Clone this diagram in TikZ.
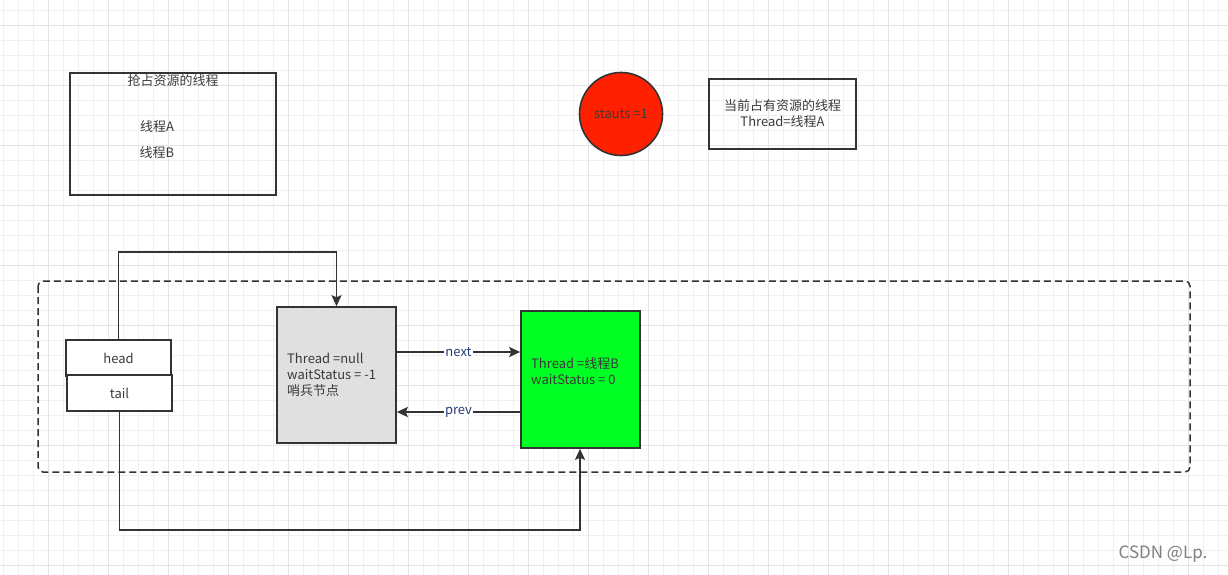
\documentclass[tikz,border=0pt]{standalone}
\usepackage{fontspec}
\setmainfont{Noto Sans CJK SC}
\usetikzlibrary{arrows.meta}
\definecolor{ink}{HTML}{333333}
\definecolor{txt}{HTML}{3A3A3A}
\definecolor{lbl}{HTML}{2A3A78}
\definecolor{redfill}{HTML}{FF2000}
\definecolor{grayfill}{HTML}{E0E0E0}
\definecolor{greenfill}{HTML}{00FF22}
\definecolor{gridminor}{HTML}{F0F0F0}
\definecolor{gridmajor}{HTML}{E4E4E4}
\tikzset{
  box/.style={draw=ink, line width=1.6pt, inner sep=0pt, font=\fontsize{13}{16}\selectfont, text=txt},
  conn/.style={draw=ink, line width=1.6pt, -{Stealth[length=11pt,width=10pt,inset=2pt]}},
  edgelbl/.style={fill=white, inner sep=1pt, text=lbl, font=\fontsize{13}{16}\selectfont},
  plain/.style={text=txt, font=\fontsize{13}{16}\selectfont, inner sep=0pt}
}
\begin{document}
\begin{tikzpicture}[x=1pt,y=-1pt]
\useasboundingbox (0,0) rectangle (1228,575);
\fill[white] (0,0) rectangle (1228,575);
% grid
\foreach \i in {0,...,82} {\draw[gridminor, line width=0.8pt] ({3+15*\i},0) -- ({3+15*\i},575);}
\foreach \j in {0,...,38} {\draw[gridminor, line width=0.8pt] (0,{10+15*\j}) -- (1228,{10+15*\j});}
\foreach \i in {0,...,20} {\draw[gridmajor, line width=0.9pt] ({48+60*\i},0) -- ({48+60*\i},575);}
\foreach \j in {0,...,9} {\draw[gridmajor, line width=0.9pt] (0,{25+60*\j}) -- (1228,{25+60*\j});}

% top-left box
\node[box, minimum width=206pt, minimum height=122pt] (contend) at (173,134) {};
\node[plain] (ctitle) at (173,81) {抢占资源的线程};
\node[plain] (ta) at (157,127) {线程A};
\node[plain] (tb) at (157,153) {线程B};

% circle
\node[draw=ink, line width=1.6pt, fill=redfill, circle, minimum size=83pt, inner sep=0pt, text=txt, font=\fontsize{13}{16}\selectfont] (state) at (621,114) {stauts =1};

% owner box
\node[box, minimum width=147pt, minimum height=70pt, align=center] (owner) at (782.5,114) {当前占有资源的线程\\Thread=线程A};

% dashed container
\draw[ink, line width=1.5pt, dash pattern=on 7pt off 4pt, rounded corners=5pt] (38,281) rectangle (1190,472);

% head / tail
\node[box, fill=white, minimum width=105pt, minimum height=36pt] (head) at (118.5,358) {head};
\node[box, fill=white, minimum width=105pt, minimum height=36pt] (tail) at (119.5,393) {tail};

% sentinel node
\node[box, fill=grayfill, minimum width=119pt, minimum height=136pt] (sent) at (336.5,375) {};
\node[plain, anchor=west, align=left] (senttxt) at (287,375) {Thread =null\\waitStatus = -1\\哨兵节点};

% green node
\node[box, fill=greenfill, minimum width=119pt, minimum height=137pt] (green) at (580.5,379.5) {};
\node[plain, anchor=west, align=left] (greentxt) at (531,371.5) {Thread =线程B\\waitStatus = 0};

% connectors
\draw[conn] (head.north) -- ++(0,-87) -| (sent.north);
\draw[conn] (sent.east |- 0,352) -- node[edgelbl] {next} (green.west |- 0,352);
\draw[conn] (green.west |- 0,412) -- node[edgelbl] {prev} (sent.east |- 0,412);
\draw[conn] (tail.south) -- ++(0,118) -| (green.south -| 580,0);

% watermark
\node[text=black!50, font=\fontsize{17}{20}\selectfont, inner sep=0pt] (wm) at (1163,554) {CSDN @Lp.};
\end{tikzpicture}
\end{document}
